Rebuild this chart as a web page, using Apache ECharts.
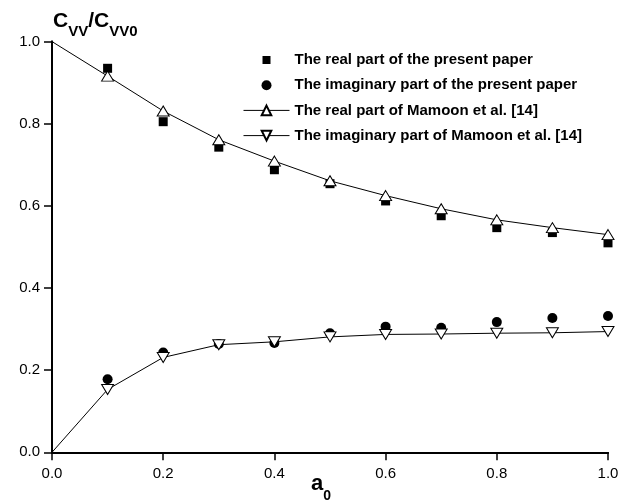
<!DOCTYPE html>
<html>
<head>
<meta charset="utf-8">
<script src="https://cdn.jsdelivr.net/npm/echarts@6/dist/echarts.min.js"></script>
<style>
  html, body { margin: 0; padding: 0; background: #fff; }
  #chart { width: 631px; height: 501px; }
</style>
</head>
<body>
<div id="chart"></div>
<script>
var chart = echarts.init(document.getElementById('chart'));

// a0 values
var xPresent = [0.1, 0.2, 0.3, 0.4, 0.5, 0.6, 0.7, 0.8, 0.9, 1.0];
var xMamoon = [0.0, 0.1, 0.2, 0.3, 0.4, 0.5, 0.6, 0.7, 0.8, 0.9, 1.0];

// Cvv/Cvv0
var realPresent = [0.935, 0.805, 0.743, 0.688, 0.654, 0.612, 0.576, 0.547, 0.535, 0.51];
var imagPresent = [0.178, 0.243, 0.264, 0.266, 0.29, 0.306, 0.303, 0.317, 0.327, 0.332];
var realMamoon = [1.0, 0.916, 0.831, 0.761, 0.709, 0.661, 0.625, 0.593, 0.566, 0.547, 0.53];
var imagMamoon = [0.0, 0.153, 0.231, 0.262, 0.269, 0.281, 0.287, 0.288, 0.29, 0.291, 0.294];

var names = [
  'The real part of the present paper',
  'The imaginary part of the present paper',
  'The real part of Mamoon et al. [14]',
  'The imaginary part of Mamoon et al. [14]'
];

var font = '"Liberation Sans", Arial, sans-serif';

function pairs(xs, ys, hideFirst) {
  return xs.map(function (x, i) {
    var d = {value: [x, ys[i]]};
    if (hideFirst && i === 0) d.symbol = 'none';
    return d;
  });
}

var axisLine = {show: true, lineStyle: {color: '#000', width: 2}};
var label = {color: '#000', fontSize: 15, fontFamily: font};
function fmt(v) { return v.toFixed(1); }

var option = {
  backgroundColor: '#fff',
  animation: false,
  title: {
    left: 53,
    top: 11,
    padding: 0,
    text: '{b|C}{s|VV}{b|/C}{s|VV0}',
    textStyle: {
      rich: {
        b: {fontSize: 21, fontWeight: 'bold', fontFamily: font, color: '#000', verticalAlign: 'bottom', padding: [0, 0, 7.6, 0]},
        s: {fontSize: 15, fontWeight: 'bold', fontFamily: font, color: '#000', verticalAlign: 'bottom'}
      }
    }
  },
  legend: {
    orient: 'vertical',
    left: 243,
    top: 52.5,
    padding: 0,
    itemWidth: 46,
    itemHeight: 12,
    itemGap: 10.2,
    lineStyle: {width: 1, color: '#000'},
    data: [
      {name: names[0], icon: 'path://M0,0M12,12M2,2L10,2L10,10L2,10Z'},
      {name: names[1], icon: 'path://M0,0M12,12M1,6A5,5,0,1,0,11,6A5,5,0,1,0,1,6Z'},
      {name: names[2]},
      {name: names[3]}
    ],
    textStyle: {color: '#000', fontSize: 15, lineHeight: 12, fontWeight: 'bold', fontFamily: font}
  },
  grid: {left: 52, right: 23, top: 41.6, bottom: 48.7, containLabel: false, outerBoundsMode: 'none'},
  xAxis: [{
    type: 'value', min: 0, max: 1, interval: 0.2,
    axisLine: axisLine,
    axisTick: {show: true, inside: false, length: 8, lineStyle: {color: '#000', width: 1.5}},
    axisLabel: Object.assign({margin: 14, formatter: fmt}, label),
    splitLine: {show: false},
    name: '{a|a}{s|0}',
    nameLocation: 'middle',
    nameGap: 21,
    nameMoveOverlap: false,
    nameTextStyle: {
      padding: [0, 18, 0, 0],
      rich: {
        a: {fontSize: 22, fontWeight: 'bold', fontFamily: font, color: '#000', verticalAlign: 'bottom', padding: [0, 0, 7.4, 0]},
        s: {fontSize: 14, fontWeight: 'bold', fontFamily: font, color: '#000', verticalAlign: 'bottom'}
      }
    }
  }, {
    type: 'value', min: 0, max: 1, interval: 0.2, position: 'top',
    axisLine: axisLine,
    axisTick: {show: true, inside: true, length: 5, lineStyle: {color: '#000', width: 1.5}},
    axisLabel: {show: false},
    splitLine: {show: false}
  }],
  yAxis: [{
    type: 'value', min: 0, max: 1, interval: 0.2,
    axisLine: axisLine,
    axisTick: {show: true, inside: false, length: 8, lineStyle: {color: '#000', width: 1.5}},
    axisLabel: Object.assign({margin: 12, formatter: fmt}, label),
    splitLine: {show: false}
  }, {
    type: 'value', min: 0, max: 1, interval: 0.2, position: 'right',
    axisLine: axisLine,
    axisTick: {show: true, inside: true, length: 5, lineStyle: {color: '#000', width: 1.5}},
    axisLabel: {show: false},
    splitLine: {show: false}
  }],
  series: [{
    name: names[0],
    type: 'scatter',
    symbol: 'rect',
    symbolSize: 9,
    itemStyle: {color: '#000', opacity: 1},
    data: pairs(xPresent, realPresent)
  }, {
    name: names[1],
    type: 'scatter',
    symbol: 'circle',
    symbolSize: 10,
    itemStyle: {color: '#000', opacity: 1},
    data: pairs(xPresent, imagPresent)
  }, {
    name: names[2],
    type: 'line',
    symbol: 'triangle',
    symbolSize: [12, 10],
    showAllSymbol: true,
    lineStyle: {color: '#000', width: 1},
    itemStyle: {color: '#fff', borderColor: '#000', borderWidth: 1},
    data: pairs(xMamoon, realMamoon, true)
  }, {
    name: names[3],
    type: 'line',
    symbol: 'triangle',
    symbolRotate: 180,
    symbolSize: [12, 10],
    showAllSymbol: true,
    lineStyle: {color: '#000', width: 1},
    itemStyle: {color: '#fff', borderColor: '#000', borderWidth: 1},
    data: pairs(xMamoon, imagMamoon, true)
  }]
};

chart.setOption(option);
</script>
</body>
</html>
